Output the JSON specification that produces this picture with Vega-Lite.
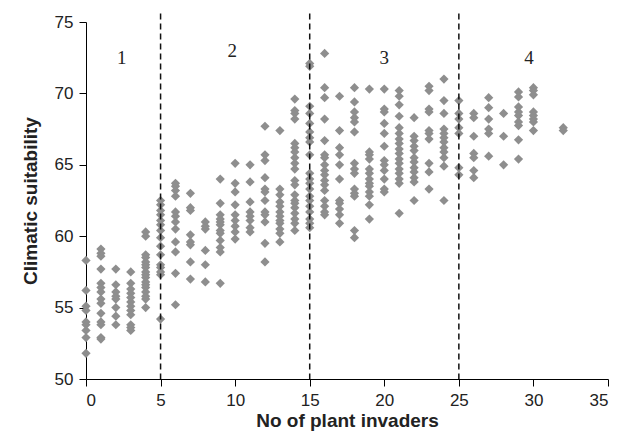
{
  "$schema": "https://vega.github.io/schema/vega-lite/v6.json",
  "width": 522,
  "height": 357,
  "autosize": "none",
  "padding": {"left": 86, "top": 22, "right": 21, "bottom": 66},
  "background": "white",
  "config": {
    "view": {"stroke": null},
    "axis": {
      "grid": false,
      "domainColor": "#000000",
      "tickColor": "#000000",
      "tickSize": 7,
      "labelFont": "Liberation Sans",
      "labelFontSize": 17,
      "labelColor": "#222222",
      "titleFont": "Liberation Sans",
      "titleFontSize": 19,
      "titleFontWeight": "bold",
      "titleColor": "#222222"
    }
  },
  "datasets": {
    "pts": [
      {"n":0,"s":58.3},{"n":0,"s":56.2},{"n":0,"s":55.1},{"n":0,"s":54.8},{"n":0,"s":54.0},{"n":0,"s":53.8},{"n":0,"s":53.4},{"n":0,"s":52.9},{"n":0,"s":51.8},
      {"n":1,"s":59.1},{"n":1,"s":58.8},{"n":1,"s":58.6},{"n":1,"s":57.7},{"n":1,"s":56.7},{"n":1,"s":56.4},{"n":1,"s":56.1},{"n":1,"s":55.6},{"n":1,"s":55.3},{"n":1,"s":54.6},{"n":1,"s":54.0},{"n":1,"s":53.8},{"n":1,"s":52.9},{"n":1,"s":52.8},
      {"n":2,"s":57.7},{"n":2,"s":56.6},{"n":2,"s":56.1},{"n":2,"s":55.8},{"n":2,"s":55.6},{"n":2,"s":55.0},{"n":2,"s":54.4},{"n":2,"s":53.8},
      {"n":3,"s":57.5},{"n":3,"s":56.7},{"n":3,"s":56.3},{"n":3,"s":56.0},{"n":3,"s":55.7},{"n":3,"s":55.4},{"n":3,"s":55.1},{"n":3,"s":54.8},{"n":3,"s":54.5},{"n":3,"s":53.8},{"n":3,"s":53.6},{"n":3,"s":53.4},
      {"n":4,"s":60.3},{"n":4,"s":60.0},{"n":4,"s":58.7},{"n":4,"s":58.5},{"n":4,"s":58.2},{"n":4,"s":58.0},{"n":4,"s":57.8},{"n":4,"s":57.5},{"n":4,"s":57.3},{"n":4,"s":57.1},{"n":4,"s":56.8},{"n":4,"s":56.6},{"n":4,"s":56.4},{"n":4,"s":56.1},{"n":4,"s":55.8},{"n":4,"s":55.6},{"n":4,"s":55.0},
      {"n":5,"s":62.5},{"n":5,"s":62.2},{"n":5,"s":61.8},{"n":5,"s":61.5},{"n":5,"s":61.1},{"n":5,"s":60.8},{"n":5,"s":60.4},{"n":5,"s":59.9},{"n":5,"s":59.3},{"n":5,"s":58.7},{"n":5,"s":58.0},{"n":5,"s":57.8},{"n":5,"s":57.5},{"n":5,"s":57.3},{"n":5,"s":54.2},
      {"n":6,"s":63.7},{"n":6,"s":63.5},{"n":6,"s":63.2},{"n":6,"s":62.8},{"n":6,"s":61.7},{"n":6,"s":61.4},{"n":6,"s":61.0},{"n":6,"s":60.5},{"n":6,"s":59.6},{"n":6,"s":58.9},{"n":6,"s":57.4},{"n":6,"s":55.2},
      {"n":7,"s":63.0},{"n":7,"s":62.0},{"n":7,"s":61.8},{"n":7,"s":60.1},{"n":7,"s":59.6},{"n":7,"s":59.4},{"n":7,"s":58.2},{"n":7,"s":57.0},
      {"n":8,"s":61.0},{"n":8,"s":60.7},{"n":8,"s":60.5},{"n":8,"s":59.0},{"n":8,"s":58.0},{"n":8,"s":56.8},
      {"n":9,"s":64.0},{"n":9,"s":62.3},{"n":9,"s":61.5},{"n":9,"s":61.2},{"n":9,"s":61.0},{"n":9,"s":60.8},{"n":9,"s":60.4},{"n":9,"s":60.2},{"n":9,"s":59.7},{"n":9,"s":59.2},{"n":9,"s":58.9},{"n":9,"s":56.7},
      {"n":10,"s":65.1},{"n":10,"s":63.7},{"n":10,"s":63.1},{"n":10,"s":62.2},{"n":10,"s":61.5},{"n":10,"s":61.1},{"n":10,"s":60.7},{"n":10,"s":60.3},{"n":10,"s":59.8},
      {"n":11,"s":65.0},{"n":11,"s":63.8},{"n":11,"s":62.4},{"n":11,"s":61.7},{"n":11,"s":61.4},{"n":11,"s":61.1},{"n":11,"s":60.6},{"n":11,"s":60.3},
      {"n":12,"s":67.7},{"n":12,"s":65.7},{"n":12,"s":65.3},{"n":12,"s":64.1},{"n":12,"s":63.3},{"n":12,"s":63.1},{"n":12,"s":62.5},{"n":12,"s":61.7},{"n":12,"s":61.5},{"n":12,"s":61.0},{"n":12,"s":59.5},{"n":12,"s":58.2},
      {"n":13,"s":67.4},{"n":13,"s":63.3},{"n":13,"s":62.9},{"n":13,"s":62.4},{"n":13,"s":62.1},{"n":13,"s":61.7},{"n":13,"s":61.4},{"n":13,"s":61.1},{"n":13,"s":60.9},{"n":13,"s":60.5},{"n":13,"s":60.2},{"n":13,"s":59.6},
      {"n":14,"s":69.6},{"n":14,"s":68.8},{"n":14,"s":68.6},{"n":14,"s":68.2},{"n":14,"s":66.5},{"n":14,"s":66.2},{"n":14,"s":65.9},{"n":14,"s":65.5},{"n":14,"s":65.1},{"n":14,"s":64.7},{"n":14,"s":63.9},{"n":14,"s":63.6},{"n":14,"s":62.9},{"n":14,"s":62.5},{"n":14,"s":62.3},{"n":14,"s":62.0},{"n":14,"s":61.6},{"n":14,"s":61.2},{"n":14,"s":60.9},{"n":14,"s":60.4},
      {"n":15,"s":72.1},{"n":15,"s":71.9},{"n":15,"s":69.1},{"n":15,"s":68.6},{"n":15,"s":67.9},{"n":15,"s":67.3},{"n":15,"s":66.9},{"n":15,"s":66.6},{"n":15,"s":65.7},{"n":15,"s":64.4},{"n":15,"s":64.0},{"n":15,"s":63.7},{"n":15,"s":63.3},{"n":15,"s":62.8},{"n":15,"s":62.5},{"n":15,"s":62.1},{"n":15,"s":61.7},{"n":15,"s":61.2},{"n":15,"s":60.9},{"n":15,"s":60.6},
      {"n":16,"s":72.8},{"n":16,"s":70.4},{"n":16,"s":69.7},{"n":16,"s":68.2},{"n":16,"s":66.7},{"n":16,"s":65.7},{"n":16,"s":65.5},{"n":16,"s":65.0},{"n":16,"s":64.6},{"n":16,"s":64.3},{"n":16,"s":63.9},{"n":16,"s":63.6},{"n":16,"s":63.2},{"n":16,"s":62.5},{"n":16,"s":62.1},{"n":16,"s":61.7},{"n":16,"s":61.5},
      {"n":17,"s":69.8},{"n":17,"s":67.4},{"n":17,"s":66.2},{"n":17,"s":65.7},{"n":17,"s":65.0},{"n":17,"s":64.0},{"n":17,"s":62.5},{"n":17,"s":62.3},{"n":17,"s":61.9},{"n":17,"s":61.5},{"n":17,"s":60.9},
      {"n":18,"s":70.4},{"n":18,"s":69.4},{"n":18,"s":68.7},{"n":18,"s":68.3},{"n":18,"s":68.0},{"n":18,"s":67.3},{"n":18,"s":65.1},{"n":18,"s":64.7},{"n":18,"s":64.4},{"n":18,"s":63.3},{"n":18,"s":63.0},{"n":18,"s":62.8},{"n":18,"s":60.4},{"n":18,"s":59.9},
      {"n":19,"s":70.3},{"n":19,"s":65.9},{"n":19,"s":65.7},{"n":19,"s":65.4},{"n":19,"s":64.7},{"n":19,"s":64.4},{"n":19,"s":64.0},{"n":19,"s":63.7},{"n":19,"s":63.5},{"n":19,"s":63.1},{"n":19,"s":62.8},{"n":19,"s":62.2},{"n":19,"s":61.2},
      {"n":20,"s":70.3},{"n":20,"s":68.9},{"n":20,"s":68.7},{"n":20,"s":67.9},{"n":20,"s":67.2},{"n":20,"s":66.3},{"n":20,"s":65.3},{"n":20,"s":65.0},{"n":20,"s":64.6},{"n":20,"s":64.0},{"n":20,"s":63.3},{"n":20,"s":63.1},
      {"n":21,"s":70.2},{"n":21,"s":69.8},{"n":21,"s":69.2},{"n":21,"s":68.4},{"n":21,"s":67.6},{"n":21,"s":67.2},{"n":21,"s":66.8},{"n":21,"s":66.5},{"n":21,"s":66.1},{"n":21,"s":65.8},{"n":21,"s":65.4},{"n":21,"s":65.1},{"n":21,"s":64.7},{"n":21,"s":64.4},{"n":21,"s":64.0},{"n":21,"s":63.7},{"n":21,"s":61.6},
      {"n":22,"s":68.3},{"n":22,"s":67.0},{"n":22,"s":66.7},{"n":22,"s":66.3},{"n":22,"s":66.0},{"n":22,"s":65.5},{"n":22,"s":65.2},{"n":22,"s":64.8},{"n":22,"s":64.5},{"n":22,"s":64.1},{"n":22,"s":63.8},{"n":22,"s":62.5},
      {"n":23,"s":70.5},{"n":23,"s":70.2},{"n":23,"s":68.9},{"n":23,"s":68.7},{"n":23,"s":67.4},{"n":23,"s":67.2},{"n":23,"s":66.8},{"n":23,"s":65.1},{"n":23,"s":64.5},{"n":23,"s":63.3},
      {"n":24,"s":71.0},{"n":24,"s":69.5},{"n":24,"s":68.6},{"n":24,"s":67.5},{"n":24,"s":67.2},{"n":24,"s":66.9},{"n":24,"s":66.6},{"n":24,"s":66.2},{"n":24,"s":65.9},{"n":24,"s":65.5},{"n":24,"s":64.9},{"n":24,"s":62.5},
      {"n":25,"s":69.5},{"n":25,"s":68.6},{"n":25,"s":68.2},{"n":25,"s":67.6},{"n":25,"s":67.2},{"n":25,"s":64.8},{"n":25,"s":64.3},
      {"n":26,"s":68.6},{"n":26,"s":68.3},{"n":26,"s":67.0},{"n":26,"s":65.8},{"n":26,"s":65.5},{"n":26,"s":64.6},{"n":26,"s":64.1},
      {"n":27,"s":69.7},{"n":27,"s":69.0},{"n":27,"s":68.2},{"n":27,"s":67.5},{"n":27,"s":67.2},{"n":27,"s":65.6},
      {"n":28,"s":68.6},{"n":28,"s":67.0},{"n":28,"s":65.0},
      {"n":29,"s":70.1},{"n":29,"s":69.75},{"n":29,"s":69.05},{"n":29,"s":68.7},{"n":29,"s":68.45},{"n":29,"s":68.0},{"n":29,"s":67.75},{"n":29,"s":66.75},{"n":29,"s":65.4},
      {"n":30,"s":70.4},{"n":30,"s":70.2},{"n":30,"s":69.9},{"n":30,"s":68.7},{"n":30,"s":68.45},{"n":30,"s":68.2},{"n":30,"s":68.0},{"n":30,"s":67.4},
      {"n":32,"s":67.6},{"n":32,"s":67.4}
    ],
    "zones": [
      {"x": 5}, {"x": 15}, {"x": 25}
    ],
    "labels": [
      {"label": "1", "x": 2.4, "y": 72.5},
      {"label": "2", "x": 9.8, "y": 73.0},
      {"label": "3", "x": 20.0, "y": 72.5},
      {"label": "4", "x": 29.7, "y": 72.5}
    ]
  },
  "layer": [
    {
      "data": {"name": "pts"},
      "mark": {"type": "point", "shape": "diamond", "filled": true, "size": 85, "color": "#8e8e8e", "opacity": 1},
      "encoding": {
        "x": {"field": "n", "type": "quantitative", "scale": {"domain": [0, 35], "nice": false}, "axis": {"values": [0,5,10,15,20,25,30,35], "title": "No of plant invaders", "labelPadding": 6, "titlePadding": 3}},
        "y": {"field": "s", "type": "quantitative", "scale": {"domain": [50, 75], "nice": false, "zero": false}, "axis": {"values": [50,55,60,65,70,75], "title": "Climatic suitability", "labelPadding": 6, "titlePadding": 14}}
      }
    },
    {
      "data": {"name": "zones"},
      "mark": {"type": "rule", "strokeDash": [6, 4], "strokeWidth": 1.5, "color": "#111111"},
      "encoding": {
        "x": {"field": "x", "type": "quantitative"},
        "y": {"datum": 75.6},
        "y2": {"datum": 50}
      }
    },
    {
      "data": {"name": "labels"},
      "mark": {"type": "text", "font": "Liberation Serif", "fontSize": 19, "color": "#222222"},
      "encoding": {
        "x": {"field": "x", "type": "quantitative"},
        "y": {"field": "y", "type": "quantitative"},
        "text": {"field": "label"}
      }
    }
  ]
}
